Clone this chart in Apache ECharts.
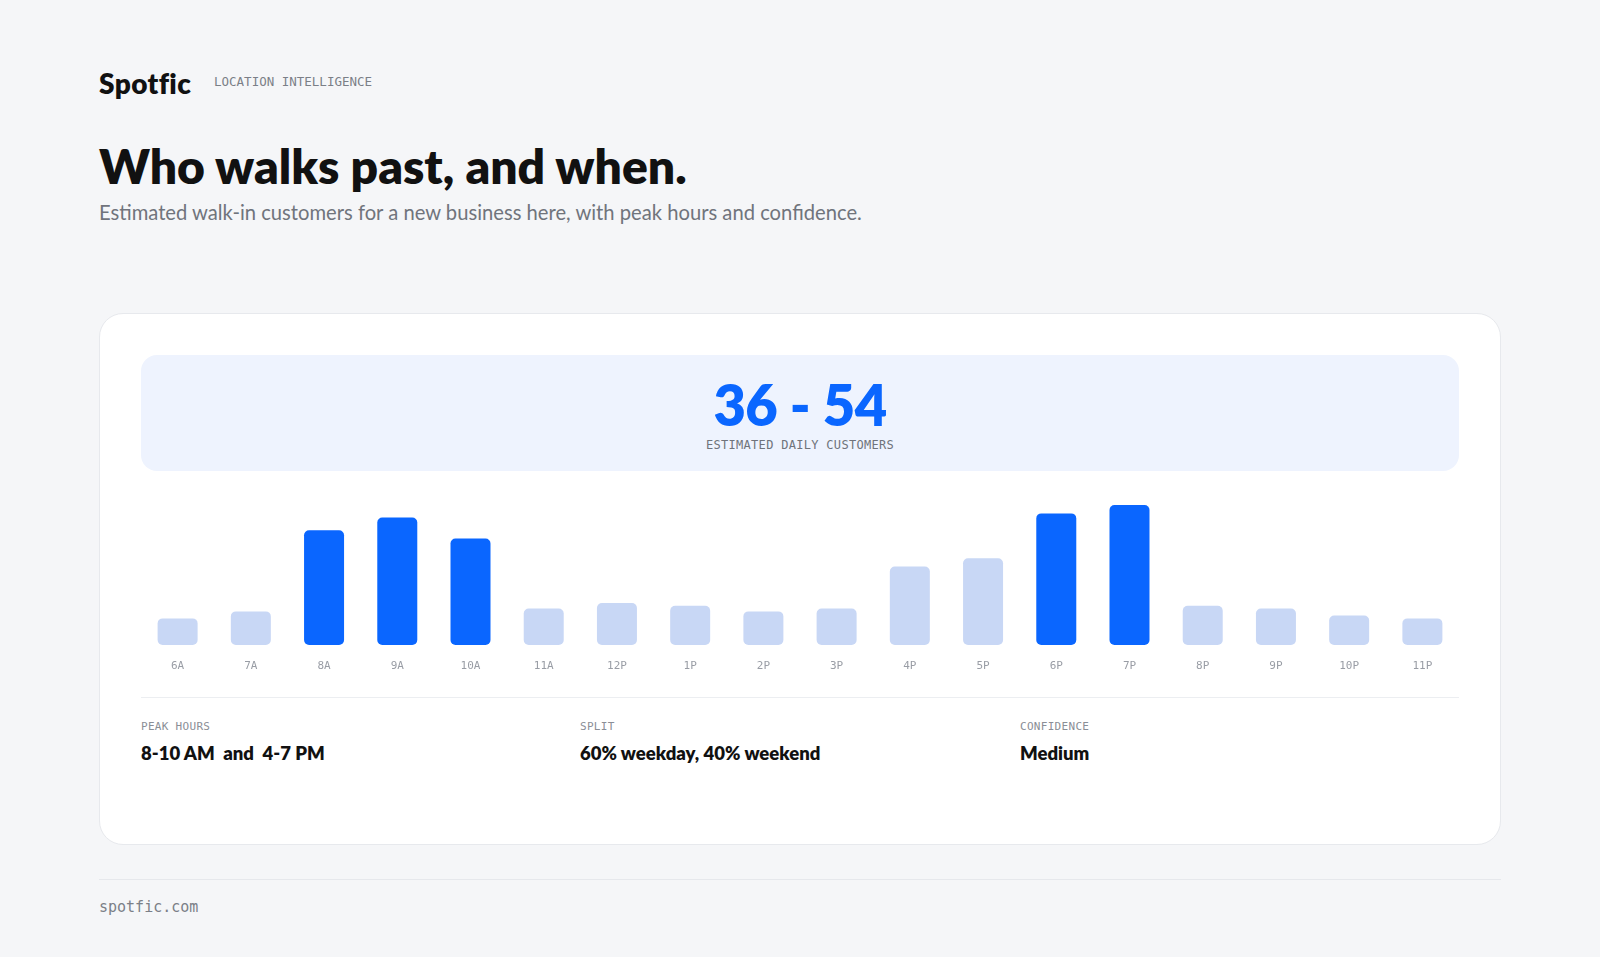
<!DOCTYPE html>
<html>
<head>
<meta charset="utf-8">
<script src="https://cdn.jsdelivr.net/npm/echarts@6/dist/echarts.min.js"></script>
<style>
  html, body { margin: 0; padding: 0; background: #f5f6f8; }
  body { width: 1600px; height: 957px; position: relative; overflow: hidden; font-family: Lato, "Noto Sans", sans-serif; }
  .abs { position: absolute; white-space: nowrap; }
  .mono { font-family: "DejaVu Sans Mono", "Liberation Mono", monospace; }
  #brand { left: 99px; top: 66px; font-size: 28px; font-weight: 800; color: #111; letter-spacing: 0.4px; line-height: 34px; }
  #tag { left: 214px; top: 74px; font-size: 12.5px; color: #7b7f87; line-height: 16px; }
  #title { left: 99px; top: 138px; font-size: 48px; font-weight: 800; color: #111; letter-spacing: 0px; line-height: 56px; }
  #subtitle { left: 99px; top: 200px; font-size: 20.2px; color: #70747c; line-height: 24px; }
  #card { left: 99px; top: 313px; width: 1400px; height: 530px; background: #fff; border: 1px solid #e7e9ed; border-radius: 24px; }
  #hero { left: 141px; top: 355px; width: 1318px; height: 116px; background: #eef3fe; border-radius: 16px; }
  #num { left: 141px; width: 1318px; top: 373px; text-align: center; font-size: 56px; font-weight: 800; color: #0a66ff; line-height: 64px; letter-spacing: -0.5px; }
  #numlbl { left: 141px; width: 1318px; top: 437px; text-align: center; font-size: 12px; color: #6f737b; line-height: 16px; letter-spacing: 0.3px; }
  #chart { left: 141px; top: 480px; width: 1318px; height: 210px; }
  #divider { left: 141px; top: 697px; width: 1318px; height: 1px; background: #eceef1; }
  .slbl { top: 720px; font-size: 11px; color: #8a8e96; line-height: 14px; letter-spacing: 0.3px; }
  .sval { top: 741px; font-size: 18.5px; font-weight: 800; color: #111; line-height: 24px; }
  #footline { left: 99px; top: 879px; width: 1402px; height: 1px; background: #e6e8ec; }
  #foot { left: 99px; top: 898px; font-size: 15px; color: #7b7f87; line-height: 18px; }
</style>
</head>
<body>
<div class="abs" id="brand">Spotfic</div>
<div class="abs mono" id="tag">LOCATION INTELLIGENCE</div>
<div class="abs" id="title">Who walks past, and when.</div>
<div class="abs" id="subtitle">Estimated walk-in customers for a new business here, with peak hours and confidence.</div>
<div class="abs" id="card"></div>
<div class="abs" id="hero"></div>
<div class="abs" id="num">36 - 54</div>
<div class="abs mono" id="numlbl">ESTIMATED DAILY CUSTOMERS</div>
<div class="abs" id="chart"></div>
<div class="abs" id="divider"></div>
<div class="abs mono slbl" style="left:141px">PEAK HOURS</div>
<div class="abs sval" style="left:141px">8-10 AM&nbsp; and&nbsp; 4-7 PM</div>
<div class="abs mono slbl" style="left:580px">SPLIT</div>
<div class="abs sval" style="left:580px">60% weekday, 40% weekend</div>
<div class="abs mono slbl" style="left:1020px">CONFIDENCE</div>
<div class="abs sval" style="left:1020px">Medium</div>
<div class="abs" id="footline"></div>
<div class="abs mono" id="foot">spotfic.com</div>
<script>
// Hourly relative foot traffic (index, peak hour = 100)
const hours = ['6A','7A','8A','9A','10A','11A','12P','1P','2P','3P','4P','5P','6P','7P','8P','9P','10P','11P'];
const traffic = [19, 24, 82, 91, 76, 26, 30, 28, 24, 26, 56, 62, 94, 100, 28, 26, 21, 19];
const peakHours = ['8A','9A','10A','6P','7P'];

const PEAK_COLOR = '#0a66ff';
const BASE_COLOR = '#c8d7f5';

const chart = echarts.init(document.getElementById('chart'), null, { renderer: 'canvas' });
chart.setOption({
  animation: false,
  grid: { left: 0, right: 0, top: 25, bottom: 45 },
  xAxis: {
    type: 'category',
    data: hours,
    axisLine: { show: false },
    axisTick: { show: false },
    axisLabel: {
      margin: 16,
      color: '#999da5',
      fontSize: 11,
      fontFamily: '"DejaVu Sans Mono", monospace'
    }
  },
  yAxis: {
    type: 'value',
    min: 0,
    max: 100,
    show: false,
    splitLine: { show: false }
  },
  series: [{
    type: 'bar',
    barWidth: 40,
    data: traffic.map((v, i) => ({
      value: v,
      itemStyle: {
        color: peakHours.includes(hours[i]) ? PEAK_COLOR : BASE_COLOR,
        borderRadius: 5
      }
    }))
  }]
});
</script>
</body>
</html>
